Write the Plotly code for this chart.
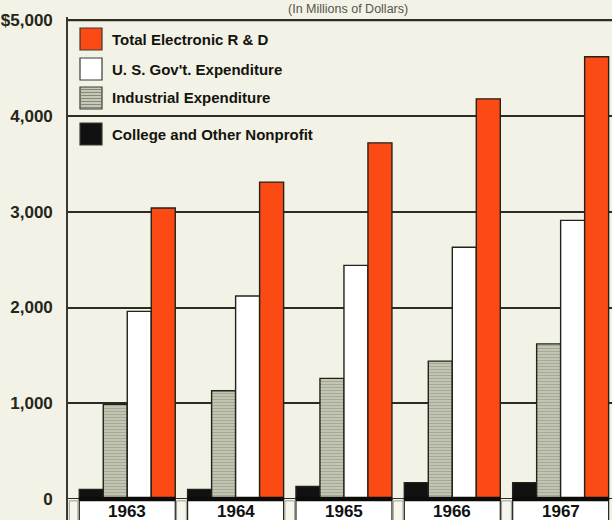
import plotly.graph_objects as go

# Electronic R & D spending by source, millions of dollars
years = ["1963", "1964", "1965", "1966", "1967"]
total_rd = [3040, 3310, 3720, 4180, 4620]
gov_expenditure = [1960, 2120, 2440, 2630, 2910]
industrial_expenditure = [990, 1130, 1260, 1440, 1620]
college_nonprofit = [100, 100, 130, 170, 170]

tick_values = [0, 1000, 2000, 3000, 4000, 5000]
tick_text = ["0", "1,000", "2,000", "3,000", "4,000", "$5,000"]

series_names = [
    "Total Electronic R & D",
    "U. S. Gov't. Expenditure",
    "Industrial Expenditure",
    "College and Other Nonprofit",
]

# page geometry
W, H = 612, 520
ML, MR, MT, MB = 68, 0, 17, 0
PW, PH = W - ML - MR, H - MT - MB

BG = "#f3f2e6"
INK = "#23231b"
GRID = "#2c2c24"
RED = "#fb4a14"
GRAY_BG = "#c6c8b6"
GRAY_FG = "#86887a"
BAR_GAP = 0.114


def px_x(px):
    return (px - ML) / PW


def px_y(py):
    return (H - MB - py) / PH


fig = go.Figure()

outline = dict(color=INK, width=1.4)
fig.add_trace(go.Bar(x=years, y=college_nonprofit, name=series_names[3],
                     marker=dict(color="#111111", line=outline)))
fig.add_trace(go.Bar(x=years, y=industrial_expenditure, name=series_names[2],
                     marker=dict(color=GRAY_BG, line=outline,
                                 pattern=dict(shape="-", fgcolor=GRAY_FG,
                                              bgcolor=GRAY_BG, size=3,
                                              solidity=0.4))))
fig.add_trace(go.Bar(x=years, y=gov_expenditure, name=series_names[1],
                     marker=dict(color="#ffffff", line=outline)))
fig.add_trace(go.Bar(x=years, y=total_rd, name=series_names[0],
                     marker=dict(color=RED, line=outline)))

shapes = []
annotations = []

# top rule at the highest tick
shapes.append(dict(type="line", xref="paper", yref="y",
                   x0=0, x1=1, y0=tick_values[-1], y1=tick_values[-1],
                   line=dict(color=GRID, width=2), layer="above"))

# year label boxes beneath each group
half = (1 - BAR_GAP) / 2
for i, yr in enumerate(years):
    shapes.append(dict(type="rect", xref="x", yref="y",
                       x0=i - half, x1=i + half, y0=-400, y1=0,
                       fillcolor="#ffffff", line=dict(color=INK, width=1.2),
                       layer="above"))
    shapes.append(dict(type="line", xref="x", yref="y",
                       x0=i - half, x1=i + half, y0=0, y1=0,
                       line=dict(color="#0c0c0a", width=4.5), layer="above"))
    annotations.append(dict(x=i, y=-128, xref="x", yref="y", text=yr,
                            showarrow=False, yanchor="middle",
                            font=dict(family="Liberation Sans, Arial, sans-serif",
                                      size=17, color="#111111", weight="bold")))
    # narrow panels between the year boxes
    left = i - half - BAR_GAP if i > 0 else -0.547
    shapes.append(dict(type="rect", xref="x", yref="y",
                       x0=left + 0.012, x1=i - half - 0.012, y0=-400, y1=-20,
                       fillcolor="#f7f6ee", line=dict(color="#9a9a8e", width=1),
                       layer="above"))

# legend swatches and labels
legend_rows = [
    (series_names[0], 39, dict(fill=RED, stripes=False)),
    (series_names[1], 69, dict(fill="#ffffff", stripes=False)),
    (series_names[2], 98, dict(fill=GRAY_BG, stripes=True)),
    (series_names[3], 134, dict(fill="#111111", stripes=False)),
]
for label, cy, sw in legend_rows:
    x0, x1 = 80, 102
    y0, y1 = cy - 11, cy + 11
    shapes.append(dict(type="rect", xref="paper", yref="paper",
                       x0=px_x(x0), x1=px_x(x1), y0=px_y(y1), y1=px_y(y0),
                       fillcolor=sw["fill"], line=dict(color="#3a3a32", width=1.2),
                       layer="above"))
    if sw["stripes"]:
        sy = y0 + 2.5
        while sy < y1 - 1:
            shapes.append(dict(type="line", xref="paper", yref="paper",
                               x0=px_x(x0 + 1), x1=px_x(x1 - 1),
                               y0=px_y(sy), y1=px_y(sy),
                               line=dict(color=GRAY_FG, width=1), layer="above"))
            sy += 3
    annotations.append(dict(x=px_x(110), y=px_y(cy), xref="paper", yref="paper",
                            text=label, showarrow=False, xanchor="left",
                            yanchor="middle",
                            font=dict(family="Liberation Sans, Arial, sans-serif",
                                      size=15, color="#14140f", weight="bold")))

# units note across the top
annotations.append(dict(x=px_x(348), y=px_y(9), xref="paper", yref="paper",
                        text="(In Millions of Dollars)", showarrow=False,
                        xanchor="center", yanchor="middle",
                        font=dict(family="Liberation Sans, Arial, sans-serif",
                                  size=12.5, color="#55554c")))

fig.update_layout(
    width=W, height=H,
    margin=dict(l=ML, r=MR, t=MT, b=MB, pad=0),
    paper_bgcolor=BG, plot_bgcolor=BG,
    barmode="group", bargap=BAR_GAP, bargroupgap=0,
    showlegend=False,
    shapes=shapes, annotations=annotations,
    xaxis=dict(type="category", range=[-0.547, 4.474], showticklabels=False,
               showgrid=False, zeroline=False, showline=False, ticks=""),
    yaxis=dict(range=[-220, 5035], tickvals=tick_values, ticktext=tick_text,
               showgrid=True, gridcolor=GRID, gridwidth=1.6,
               zeroline=True, zerolinecolor=GRID, zerolinewidth=1.2,
               showline=True, linecolor="#3a3a32", linewidth=1.6,
               ticks="", ticklabelstandoff=10,
               tickfont=dict(family="Liberation Sans, Arial, sans-serif",
                             size=17, color="#26261a", weight="bold")),
)

fig.write_html("out.html")
